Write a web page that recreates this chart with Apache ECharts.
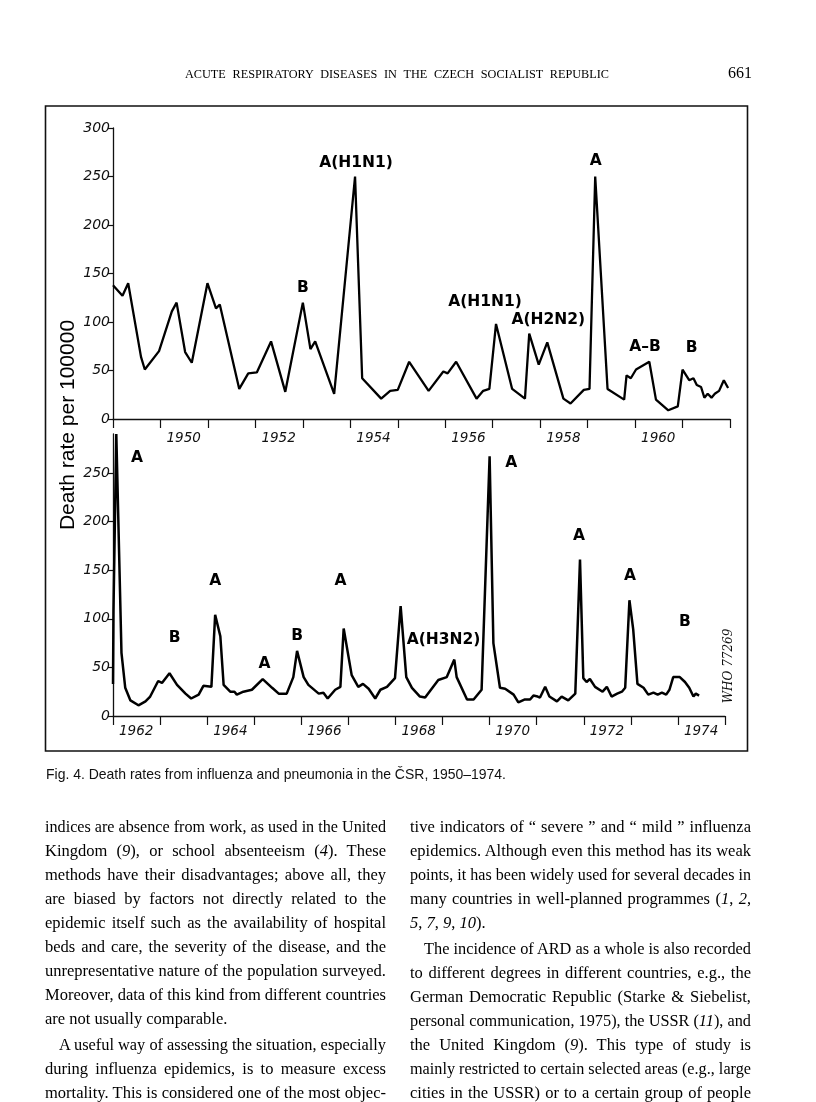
<!DOCTYPE html>
<html><head><meta charset="utf-8">
<script src="https://cdn.jsdelivr.net/npm/echarts@6/dist/echarts.min.js"></script>
<style>
html,body{margin:0;padding:0;background:#fff;}
#page{position:relative;width:816px;height:1102px;overflow:hidden;background:#fff;}
#chart{position:absolute;left:0;top:0;width:816px;height:1102px;}
.t{position:absolute;white-space:nowrap;color:#111;line-height:1;transform-origin:0 50%;}
.serif{font-family:"Liberation Serif","Times New Roman",serif;}
.sans{font-family:"Liberation Sans",Arial,sans-serif;}
</style></head>
<body><div id="page"><div id="chart"></div><div id="text"></div></div>
<script>
// ---------- data ----------
const topYears = [1949, 1962];          // top panel range (ticks every year)
const bottomYears = [1962, 1975];       // bottom panel range
const topYTicks = [0, 50, 100, 150, 200, 250, 300];
const bottomYTicks = [0, 50, 100, 150, 200, 250];
const topXLabels = [1950, 1952, 1954, 1956, 1958, 1960];
const bottomXLabels = [1962, 1964, 1966, 1968, 1970, 1972, 1974];

// death rate per 100000, [year position, value]
const topSeries = [
[1949.00,138],[1949.20,127],[1949.32,140],[1949.59,64],[1949.67,51],[1949.97,70],[1950.24,111],[1950.34,120],
[1950.52,69],[1950.66,58],[1950.99,140],[1951.17,114],[1951.25,118],[1951.66,31],[1951.85,47],[1952.03,48],
[1952.33,80],[1952.63,28],[1953.00,120],[1953.16,72],[1953.26,80],[1953.66,26],[1954.10,250],[1954.25,42],
[1954.65,21],[1954.84,29],[1955.00,30],[1955.24,59],[1955.65,29],[1955.96,49],[1956.05,47],[1956.23,59],
[1956.66,21],[1956.80,29],[1956.93,31],[1957.07,98],[1957.41,31],[1957.68,21],[1957.77,88],[1957.97,56],
[1958.15,79],[1958.49,21],[1958.64,16],[1958.92,30],[1959.04,31],[1959.16,250],[1959.42,31],[1959.77,20],
[1959.82,45],[1959.91,42],[1960.02,51],[1960.30,59],[1960.44,20],[1960.70,9],[1960.90,13],[1961.00,51],
[1961.14,40],[1961.23,42],[1961.30,35],[1961.39,33],[1961.46,22],[1961.53,26],[1961.61,22],[1961.68,26],
[1961.77,29],[1961.87,40],[1961.96,32]
];
const bottomSeries = [
[1962.00,33],[1962.01,108],[1962.07,290],[1962.18,65],[1962.26,29],[1962.37,16],[1962.54,11],[1962.69,15],
[1962.79,20],[1962.96,36],[1963.04,34],[1963.20,44],[1963.36,32],[1963.54,23],[1963.66,18],[1963.82,22],
[1963.92,31],[1964.09,30],[1964.17,104],[1964.28,82],[1964.35,32],[1964.49,25],[1964.58,25],[1964.63,22],
[1964.77,25],[1964.95,27],[1965.18,38],[1965.38,29],[1965.52,23],[1965.69,23],[1965.83,40],[1965.91,67],
[1966.05,40],[1966.15,32],[1966.37,23],[1966.47,24],[1966.56,18],[1966.72,27],[1966.83,30],[1966.90,90],
[1967.07,42],[1967.21,30],[1967.31,33],[1967.43,28],[1967.57,18],[1967.68,27],[1967.82,30],[1967.99,39],
[1968.11,113],[1968.23,40],[1968.35,29],[1968.52,20],[1968.63,19],[1968.91,37],[1969.09,40],[1969.25,58],
[1969.30,40],[1969.52,17],[1969.66,17],[1969.83,27],[1970.00,267],[1970.08,75],[1970.22,29],[1970.33,28],
[1970.51,22],[1970.61,14],[1970.75,17],[1970.86,17],[1970.93,21],[1971.02,20],[1971.07,19],[1971.18,30],
[1971.27,20],[1971.43,15],[1971.53,20],[1971.67,16],[1971.82,23],[1971.92,161],[1971.99,39],[1972.06,35],
[1972.13,38],[1972.24,30],[1972.40,25],[1972.49,30],[1972.59,20],[1972.71,23],[1972.81,25],[1972.88,29],
[1972.97,119],[1973.05,89],[1973.14,33],[1973.27,29],[1973.37,22],[1973.48,24],[1973.57,22],[1973.66,24],
[1973.75,22],[1973.82,27],[1973.90,40],[1974.04,40],[1974.15,35],[1974.24,29],[1974.33,20],[1974.38,23],
[1974.45,21]
];
// virus-type annotations: [year position, value, text]
const topNotes = [
[1954.12,264,'A(H1N1)'],[1953.00,135,'B'],[1956.84,121,'A(H1N1)'],[1958.17,102,'A(H2N2)'],
[1959.17,266,'A'],[1960.21,74,'A–B'],[1961.19,73,'B']
];
const bottomNotes = [
[1962.51,265,'A'],[1963.31,80,'B'],[1964.17,139,'A'],[1965.22,53,'A'],[1965.91,82,'B'],[1966.83,139,'A'],
[1969.02,78,'A(H3N2)'],[1970.46,260,'A'],[1971.90,185,'A'],[1972.98,144,'A'],[1974.15,97,'B']
];
const yAxisTitle = 'Death rate per 100000';
const codeText = 'WHO 77269';

// ---------- page text ----------
const headerText = 'ACUTE RESPIRATORY DISEASES IN THE CZECH SOCIALIST REPUBLIC';
const pageNumber = '661';
const captionText = 'Fig. 4. Death rates from influenza and pneumonia in the ČSR, 1950–1974.';
const leftLines = [
'indices are absence from work, as used in the United',
'Kingdom (<i>9</i>), or school absenteeism (<i>4</i>). These',
'methods have their disadvantages; above all, they',
'are biased by factors not directly related to the',
'epidemic itself such as the availability of hospital',
'beds and care, the severity of the disease, and the',
'unrepresentative nature of the population surveyed.',
'Moreover, data of this kind from different countries',
'are not usually comparable.',
'A useful way of assessing the situation, especially',
'during influenza epidemics, is to measure excess',
'mortality. This is considered one of the most objec-'
];
const rightLines = [
'tive indicators of “ severe ” and “ mild ” influenza',
'epidemics. Although even this method has its weak',
'points, it has been widely used for several decades in',
'many countries in well-planned programmes (<i>1</i>, <i>2</i>,',
'<i>5</i>, <i>7</i>, <i>9</i>, <i>10</i>).',
'The incidence of ARD as a whole is also recorded',
'to different degrees in different countries, e.g., the',
'German Democratic Republic (Starke &amp; Siebelist,',
'personal communication, 1975), the USSR (<i>11</i>), and',
'the United Kingdom (<i>9</i>). This type of study is',
'mainly restricted to certain selected areas (e.g., large',
'cities in the USSR) or to a certain group of people'
];

// ---------- text layout ----------
const host = document.getElementById('text');
function addLine(html, cls, size, x, cy, width, mode, extraStyle) {
  const s = document.createElement('span');
  s.className = 't ' + cls;
  s.style.fontSize = size + 'px';
  if (extraStyle) Object.assign(s.style, extraStyle);
  s.innerHTML = html;
  s.style.left = x + 'px';
  s.style.top = (cy - size * 0.55) + 'px';
  host.appendChild(s);
  const n = s.getBoundingClientRect().width;
  if (mode === 'justify') {
    const sp = (s.textContent.match(/ /g) || []).length;
    if (n < width && sp > 0) s.style.wordSpacing = ((width - n) / sp) + 'px';
    else if (n > width) s.style.transform = 'scaleX(' + (width / n) + ')';
  } else if (mode === 'fit') {
    s.style.transform = 'scaleX(' + (width / n) + ')';
  } else if (n > width) {
    s.style.transform = 'scaleX(' + (width / n) + ')';
  }
  return s;
}
addLine(headerText, 'serif', 13.5, 185, 74, 424, 'fit', {wordSpacing: '4px', color: '#000'});
addLine(pageNumber, 'serif', 17, 728, 73, 24, 'fit', {color: '#000'});
addLine(captionText, 'sans', 14.5, 46, 775, 460, 'fit', {color: '#111'});

const colW = 341;
const leftX = 45, rightX = 410;
const leftY = [828,852,876,900,924,948,972,996,1020,1046,1070,1094];
const rightY = [828,852,876,900,924,950,974,998,1022,1046,1070,1094];
const leftLast = {8:true}, leftIndent = {9:true};
const rightLast = {4:true}, rightIndent = {5:true};
leftLines.forEach((l, i) => {
  const ind = leftIndent[i] ? 14 : 0;
  addLine(l, 'serif', 16.5, leftX + ind, leftY[i], colW - ind, leftLast[i] ? 'none' : 'justify', {color: '#000'});
});
rightLines.forEach((l, i) => {
  const ind = rightIndent[i] ? 14 : 0;
  addLine(l, 'serif', 16.5, rightX + ind, rightY[i], colW - ind, rightLast[i] ? 'none' : 'justify', {color: '#000'});
});

// ---------- chart ----------
const ink = '#000';
const chart = echarts.init(document.getElementById('chart'), null, {renderer: 'canvas', width: 816, height: 1102});
function xAxis(grid, range, labels, margin) {
  return {
    gridIndex: grid, type: 'value', min: range[0], max: range[1], interval: 1,
    axisLine: {onZero: false, lineStyle: {color: '#111', width: 1.3}},
    axisTick: {show: true, inside: false, length: 9, lineStyle: {color: '#111', width: 1.2}},
    splitLine: {show: false},
    axisLabel: {
      show: true, margin: margin, align: 'left', padding: [0, 0, 0, 6],
      fontFamily: 'DejaVu Sans', fontStyle: 'italic', fontSize: 13.5, color: '#111',
      showMinLabel: true, showMaxLabel: true,
      formatter: v => labels.indexOf(Math.round(v)) >= 0 ? String(Math.round(v)) : ''
    }
  };
}
function yAxis(grid, max, ticks) {
  return {
    gridIndex: grid, type: 'value', min: 0, max: max, interval: 50,
    axisLine: {show: true, onZero: false, lineStyle: {color: '#111', width: 1.3}},
    axisTick: {show: true, inside: false, length: 5, lineStyle: {color: '#111', width: 1.2}, customValues: ticks},
    splitLine: {show: false},
    axisLabel: {
      show: true, margin: 3, customValues: ticks,
      fontFamily: 'DejaVu Sans', fontStyle: 'italic', fontSize: 14, color: '#111',
      formatter: v => ticks.indexOf(v) >= 0 ? String(v) : ''
    }
  };
}
function notes(xi, yi, data) {
  return {
    type: 'scatter', xAxisIndex: xi, yAxisIndex: yi, data: data, symbolSize: 1,
    itemStyle: {color: '#fff', opacity: 0}, silent: true, z: 5,
    label: {show: true, position: 'inside', formatter: p => p.value[2], opacity: 1,
      fontFamily: 'DejaVu Sans', fontWeight: 'bold', fontSize: 15.5, color: '#000'}
  };
}
function line(xi, yi, data, w) {
  return {
    type: 'line', xAxisIndex: xi, yAxisIndex: yi, data: data, symbol: 'none',
    lineStyle: {color: ink, width: w}, silent: true, clip: false
  };
}
chart.setOption({
  animation: false,
  backgroundColor: 'transparent',
  grid: [
    {left: 113, top: 128, width: 617, height: 291},
    {left: 113, top: 434, width: 612, height: 282}
  ],
  xAxis: [xAxis(0, topYears, topXLabels, 12), xAxis(1, bottomYears, bottomXLabels, 8)],
  yAxis: [yAxis(0, 300, topYTicks), yAxis(1, 290, bottomYTicks)],
  series: [
    line(0, 0, topSeries, 2.3),
    line(1, 1, bottomSeries, 2.5),
    notes(0, 0, topNotes),
    notes(1, 1, bottomNotes)
  ],
  graphic: [
    {type: 'rect', silent: true, shape: {x: 45.5, y: 106, width: 702, height: 645},
      style: {fill: 'none', stroke: '#111', lineWidth: 1.6}},
    {type: 'text', silent: true, x: 68, y: 425, rotation: Math.PI / 2,
      style: {text: yAxisTitle, fontFamily: 'Liberation Sans', fontSize: 21, fill: '#000',
        align: 'center', verticalAlign: 'middle'}},
    {type: 'text', silent: true, x: 729, y: 666, rotation: Math.PI / 2,
      style: {text: codeText, fontFamily: 'DejaVu Serif', fontStyle: 'italic', fontSize: 12, fill: '#111',
        align: 'center', verticalAlign: 'middle'}}
  ]
});
</script>
</body></html>
